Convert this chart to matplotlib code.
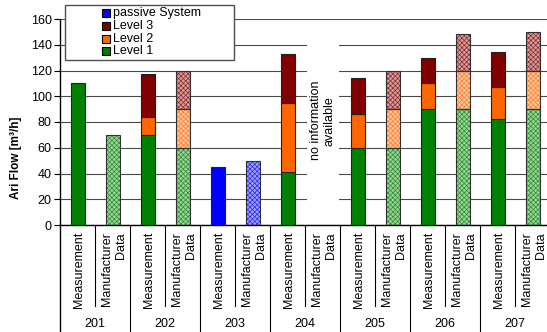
import matplotlib
matplotlib.use("Agg")
import matplotlib.pyplot as plt
import matplotlib.transforms as mtransforms
from matplotlib.patches import Rectangle
from matplotlib.colors import to_rgb
import numpy as np

plt.rcParams['font.family'] = ['Liberation Sans', 'DejaVu Sans']
plt.rcParams['hatch.linewidth'] = 0.5

# ---- data -------------------------------------------------------------
groups = ['201', '202', '203', '204', '205', '206', '207']
sources = ['Measurement', 'Manufacturer\nData']
# one entry per bar: (Measurement, Manufacturer Data) for each group
passive = [0, 0, 0, 0, 45, 50, 0, 0, 0, 0, 0, 0, 0, 0]
level1 = [110, 70, 70, 60, 0, 0, 41, 0, 60, 60, 90, 90, 82, 90]
level2 = [0, 0, 14, 30, 0, 0, 54, 0, 26, 30, 20, 30, 25, 30]
level3 = [0, 0, 33, 30, 0, 0, 38, 0, 28, 30, 20, 28, 27, 30]
no_info_label = 'no information\navailable'
no_info_index = 7

series_names = ['passive System', 'Level 3', 'Level 2', 'Level 1']
series_colors = ['#0000ff', '#800000', '#ff6600', '#008000']
y_ticks = [0, 20, 40, 60, 80, 100, 120, 140, 160]

W, H = 547, 332
fig = plt.figure(figsize=(W / 100, H / 100), dpi=100)

ax_left, ax_right, ax_top, ax_bot = 60, 550, 19, 225
ax = fig.add_axes([ax_left / W, 1 - ax_bot / H,
                   (ax_right - ax_left) / W, (ax_bot - ax_top) / H])

n = len(level1)
x = np.arange(n)
bar_w = 0.4


def light(c, f=0.5):
    r, g, b = to_rgb(c)
    return (r + (1 - r) * f, g + (1 - g) * f, b + (1 - b) * f)


stack = [(passive, series_colors[0]), (level1, series_colors[3]),
         (level2, series_colors[2]), (level3, series_colors[1])]
bottom = np.zeros(n)
for vals, col in stack:
    vals = np.asarray(vals, dtype=float)
    for i in range(n):
        if vals[i] <= 0:
            continue
        if i % 2 == 1:
            # manufacturer data: light checkered fill
            ax.bar(x[i], vals[i], bar_w, bottom=bottom[i],
                   facecolor=light(col, 0.62), edgecolor=light(col, 0.15),
                   hatch='xxxxxxx', linewidth=0, zorder=2)
            ax.bar(x[i], vals[i], bar_w, bottom=bottom[i], fill=False,
                   edgecolor='#303030', linewidth=0.8, zorder=3)
        else:
            ax.bar(x[i], vals[i], bar_w, bottom=bottom[i], color=col,
                   edgecolor='#202020', linewidth=0.8, zorder=3)
    bottom += vals

ax.set_xlim(-0.5, -0.5 + (ax_right - ax_left) / 35)
ax.set_ylim(0, 160)
ax.set_yticks(y_ticks)
ax.tick_params(axis='y', length=4, width=0.8, labelsize=9, pad=2)
ax.set_xticks([])
ax.yaxis.grid(True, color='#4a4a4a', linewidth=0.8)
ax.set_axisbelow(True)
for s in ['top', 'right']:
    ax.spines[s].set_visible(False)
for s in ['left', 'bottom']:
    ax.spines[s].set_linewidth(1.0)

# gap in the grid where no values exist
ax.add_patch(Rectangle((no_info_index - 0.445, 1), 0.915, 149,
                       facecolor='white', edgecolor='none', zorder=1))
ax.text(no_info_index, 81, no_info_label, rotation=90, ha='center',
        va='center', multialignment='center', fontsize=9, zorder=4)

# two-level category axis
ax_h = ax_bot - ax_top
trans = mtransforms.blended_transform_factory(ax.transData, ax.transAxes)
bottom_frac = -(H - ax_bot) / ax_h
ax.plot([0, 0], [0, bottom_frac], transform=ax.transAxes, color='black',
        lw=1.0, clip_on=False)
for g in range(len(groups)):
    xs = 2 * g + 1.5
    ax.plot([xs, xs], [0, bottom_frac], transform=trans, color='black',
            lw=0.8, clip_on=False)
    xm = 2 * g + 0.5
    ax.plot([xm, xm], [0, -(306 - ax_bot) / ax_h], transform=trans,
            color='black', lw=0.8, clip_on=False)
    ax.text(2 * g + 0.5, -(324 - ax_bot) / ax_h, groups[g], transform=trans,
            ha='center', va='center', fontsize=9)
    for k, lab in enumerate(sources):
        ax.text(2 * g + k + 0.05, -(232 - ax_bot) / ax_h, lab,
                transform=trans, rotation=90, ha='center', va='top',
                multialignment='right', fontsize=9)

fig.text(16 / W, 1 - 158 / H, 'Ari Flow [m³/h]', rotation=90,
         ha='center', va='center', fontsize=8.5, fontweight='bold')

# legend box
fig.add_artist(Rectangle((65 / W, 1 - 60 / H), (234 - 65) / W, 55 / H,
                         transform=fig.transFigure, facecolor='white',
                         edgecolor='#505050', linewidth=1.0, zorder=5))
row_y = [13, 25.7, 38.5, 51.3]
for name, col, ry in zip(series_names, series_colors, row_y):
    fig.add_artist(Rectangle((102 / W, 1 - (ry + 4) / H), 8 / W, 8 / H,
                             transform=fig.transFigure, facecolor=col,
                             edgecolor='black', linewidth=0.8, zorder=6))
    fig.text(113 / W, 1 - ry / H, name, ha='left', va='center',
             fontsize=9, zorder=6)

fig.savefig('out.png', dpi=100)
